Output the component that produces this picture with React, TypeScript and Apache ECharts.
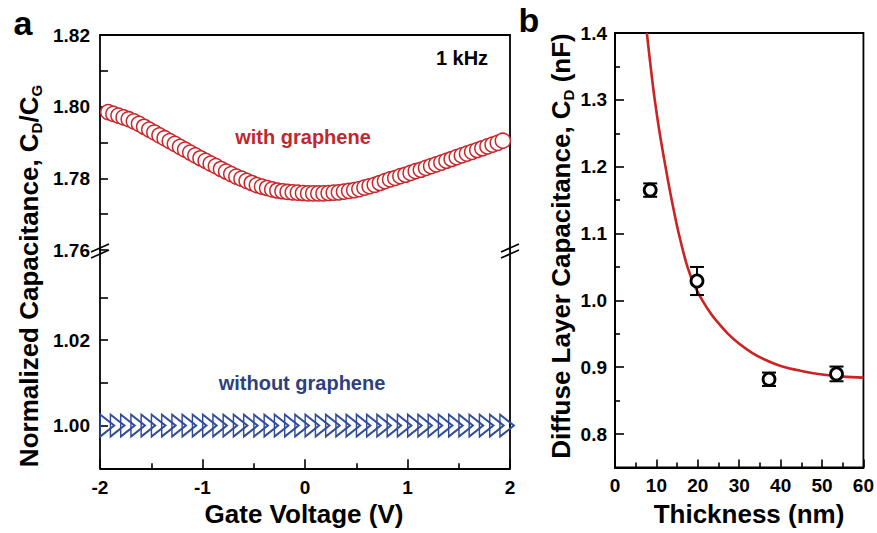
import React, { useEffect, useRef } from "react";
import * as echarts from "echarts";

// ---------- Panel a: normalized capacitance vs gate voltage ----------
const voltageWith = [
  -1.92, -1.87, -1.82, -1.77, -1.72, -1.67, -1.62, -1.57, -1.52, -1.47,
  -1.42, -1.37, -1.32, -1.27, -1.22, -1.17, -1.12, -1.07, -1.02, -0.97,
  -0.92, -0.87, -0.82, -0.77, -0.72, -0.67, -0.62, -0.57, -0.52, -0.47,
  -0.42, -0.37, -0.32, -0.27, -0.22, -0.17, -0.12, -0.07, -0.02, 0.03,
  0.08, 0.13, 0.18, 0.23, 0.28, 0.33, 0.38, 0.43, 0.48, 0.53,
  0.58, 0.63, 0.68, 0.73, 0.78, 0.83, 0.88, 0.93, 0.98, 1.03,
  1.08, 1.13, 1.18, 1.23, 1.28, 1.33, 1.38, 1.43, 1.48, 1.53,
  1.58, 1.63, 1.68, 1.73, 1.78, 1.83, 1.88, 1.93,
];
const capWithGraphene = [
  1.7985, 1.798, 1.7975, 1.797, 1.7965, 1.7959, 1.7952, 1.7944, 1.7936, 1.7928,
  1.792, 1.7912, 1.7904, 1.7896, 1.7888, 1.788, 1.7872, 1.7864, 1.7856, 1.7849,
  1.7841, 1.7834, 1.7826, 1.7819, 1.7812, 1.7805, 1.7799, 1.7793, 1.7787, 1.7781,
  1.7777, 1.7773, 1.7769, 1.7766, 1.7764, 1.7762, 1.7761, 1.776, 1.7759, 1.7758,
  1.7758, 1.7758, 1.7758, 1.7759, 1.776, 1.7761, 1.7763, 1.7765, 1.7767, 1.777,
  1.7774, 1.7778, 1.7782, 1.7787, 1.7792, 1.7797, 1.7801, 1.7806, 1.781, 1.7815,
  1.782, 1.7824, 1.7829, 1.7834, 1.7839, 1.7844, 1.7849, 1.7854, 1.7859, 1.7864,
  1.7869, 1.7874, 1.7879, 1.7884, 1.7889, 1.7894, 1.7899, 1.7905,
];
const voltageWithout = [
  -1.93, -1.83, -1.73, -1.63, -1.53, -1.43, -1.33, -1.23, -1.13, -1.03,
  -0.93, -0.83, -0.73, -0.63, -0.53, -0.43, -0.33, -0.23, -0.13, -0.03,
  0.07, 0.17, 0.27, 0.37, 0.47, 0.57, 0.67, 0.77, 0.87, 0.97,
  1.07, 1.17, 1.27, 1.37, 1.47, 1.57, 1.67, 1.77, 1.87, 1.97,
];
const capWithoutGraphene = [
  1.0, 1.0, 1.0, 1.0, 1.0, 1.0, 1.0, 1.0, 1.0, 1.0,
  1.0, 1.0, 1.0, 1.0, 1.0, 1.0, 1.0, 1.0, 1.0, 1.0,
  1.0, 1.0, 1.0, 1.0, 1.0, 1.0, 1.0, 1.0, 1.0, 1.0,
  1.0, 1.0, 1.0, 1.0, 1.0, 1.0, 1.0, 1.0, 1.0, 1.0,
];
const lowerTickValues = [1.0, 1.01, 1.02, 1.03];
const lowerLabelValues = [1.0, 1.02];

// ---------- Panel b: diffuse layer capacitance vs thickness ----------
const thickness = [8.5, 19.8, 37.2, 53.5];
const cdValues = [1.165, 1.029, 0.882, 0.89];
const cdErrors = [0.01, 0.021, 0.01, 0.011];
const fitThickness = [7.7, 8.6, 9.6, 10.8, 12.2, 13.7, 15.4, 17.5, 19.3, 21.2, 23.3, 25.4, 27.3, 30, 33, 36, 40, 45, 50, 55, 60];
const fitCd = [1.4, 1.35, 1.3, 1.25, 1.2, 1.15, 1.1, 1.05, 1.021, 0.999, 0.979, 0.963, 0.95, 0.935, 0.922, 0.912, 0.902, 0.8945, 0.889, 0.886, 0.8845];
const bMajorTicks = [0.8, 0.9, 1.0, 1.1, 1.2, 1.3, 1.4];
const bMinorTicks = [0.85, 0.95, 1.05, 1.15, 1.25, 1.35];

const FONT = "'Liberation Sans', Arial, Helvetica, sans-serif";
const RED = "#C8282C";
const BLUE = "#2F4C9C";
const AXIS = { lineStyle: { color: "#000", width: 1.8 } };
const TICK_STYLE = { color: "#000", width: 1.6 };
const LABEL = { color: "#000", fontSize: 19, fontWeight: "bold" as const, fontFamily: FONT };

function frameAxis(extra: any) {
  return {
    type: "value",
    axisLine: { show: true, onZero: false, ...AXIS },
    axisTick: { show: false },
    axisLabel: { show: false },
    splitLine: { show: false },
    ...extra,
  };
}

function txt(text: string, x: number, y: number, size: number, color: string, extra: any = {}) {
  return {
    type: "text",
    x,
    y,
    silent: true,
    style: {
      text,
      fill: color,
      fontSize: size,
      fontWeight: "bold",
      fontFamily: FONT,
      align: "center",
      verticalAlign: "middle",
      textAlign: "center",
      textVerticalAlign: "middle",
    },
    ...extra,
  };
}

function breakMarks(x: number) {
  const st = { stroke: "#000", lineWidth: 1.6 };
  return [248, 254].map((y) => ({
    type: "line",
    silent: true,
    shape: { x1: x - 9, y1: y + 4, x2: x + 9, y2: y - 4 },
    style: st,
  }));
}

export default function App() {
  const ref = useRef<HTMLDivElement>(null);
  useEffect(() => {
    if (!ref.current) return;
    const chart = echarts.init(ref.current, undefined, { renderer: "svg" });

    const richTitle = (size: number) => ({
      m: { fontSize: size, fontWeight: "bold", fontFamily: FONT, fill: "#000", lineHeight: 30 },
      s: { fontSize: 15, fontWeight: "bold", fontFamily: FONT, fill: "#000", lineHeight: 20, verticalAlign: "bottom" },
    });

    const option: any = {
      animation: false,
      grid: [
        { left: 100, top: 35, width: 410, height: 215 },
        { left: 100, top: 250, width: 410, height: 218.3 },
        { left: 615, top: 33, width: 258, height: 434.5, show: true, borderColor: "#000", borderWidth: 1.8 },
      ],
      xAxis: [
        frameAxis({ gridIndex: 0, min: -2, max: 2, position: "top" }),
        {
          type: "value",
          gridIndex: 1,
          min: -2,
          max: 2,
          interval: 1,
          position: "bottom",
          axisLine: { show: true, onZero: false, ...AXIS },
          axisTick: { show: true, inside: true, length: 9, lineStyle: TICK_STYLE },
          minorTick: { show: true, splitNumber: 2, length: 5, lineStyle: TICK_STYLE },
          axisLabel: { ...LABEL, margin: 10 },
          splitLine: { show: false },
        },
        {
          type: "value",
          gridIndex: 2,
          min: 0,
          max: 60,
          interval: 10,
          position: "bottom",
          axisLine: { show: true, onZero: false, ...AXIS },
          axisTick: { show: true, inside: true, length: 8, lineStyle: TICK_STYLE },
          minorTick: { show: true, splitNumber: 2, length: 5, lineStyle: TICK_STYLE },
          axisLabel: { ...LABEL, margin: 8 },
          splitLine: { show: false },
        },
      ],
      yAxis: [
        {
          type: "value",
          gridIndex: 0,
          min: 1.76,
          max: 1.82,
          interval: 0.01,
          position: "left",
          axisLine: { show: true, onZero: false, ...AXIS },
          axisTick: { show: true, inside: true, length: 8, lineStyle: TICK_STYLE },
          axisLabel: {
            ...LABEL,
            margin: 10,
            formatter: (v: number) => (Math.round(v * 100) % 2 === 0 ? v.toFixed(2) : ""),
          },
          splitLine: { show: false },
        },
        frameAxis({ gridIndex: 0, min: 1.76, max: 1.82, position: "right" }),
        {
          type: "value",
          gridIndex: 1,
          min: 0.99,
          max: 1.0411,
          position: "left",
          axisLine: { show: true, onZero: false, ...AXIS },
          axisTick: { show: true, inside: true, length: 8, lineStyle: TICK_STYLE, customValues: lowerTickValues },
          axisLabel: { ...LABEL, margin: 10, customValues: lowerLabelValues, formatter: (v: number) => v.toFixed(2) },
          splitLine: { show: false },
        },
        frameAxis({ gridIndex: 1, min: 0.99, max: 1.0411, position: "right" }),
        {
          type: "value",
          gridIndex: 2,
          min: 0.75,
          max: 1.4,
          position: "left",
          axisLine: { show: true, onZero: false, ...AXIS },
          axisTick: { show: true, inside: true, length: 9, lineStyle: TICK_STYLE, customValues: bMajorTicks },
          axisLabel: { ...LABEL, margin: 8, customValues: bMajorTicks, formatter: (v: number) => v.toFixed(1) },
          splitLine: { show: false },
        },
        {
          type: "value",
          gridIndex: 2,
          min: 0.75,
          max: 1.4,
          position: "left",
          offset: 0,
          axisLine: { show: false, onZero: false },
          axisTick: { show: true, inside: true, length: 5, lineStyle: TICK_STYLE, customValues: bMinorTicks },
          axisLabel: { show: false },
          splitLine: { show: false },
        },
      ],
      series: [
        {
          name: "with graphene",
          type: "scatter",
          xAxisIndex: 0,
          yAxisIndex: 0,
          symbol: "circle",
          symbolSize: 15,
          silent: true,
          itemStyle: { color: "#fff", borderColor: RED, borderWidth: 1.5, opacity: 1 },
          data: voltageWith.map((v, i) => [v, capWithGraphene[i]]),
        },
        {
          name: "without graphene",
          type: "scatter",
          xAxisIndex: 1,
          yAxisIndex: 2,
          symbol: "triangle",
          symbolSize: [22, 14],
          symbolRotate: -90,
          silent: true,
          itemStyle: { color: "rgba(255,255,255,0)", borderColor: BLUE, borderWidth: 1.8, opacity: 1 },
          data: voltageWithout.map((v, i) => [v, capWithoutGraphene[i]]),
        },
        {
          name: "fit",
          type: "line",
          xAxisIndex: 2,
          yAxisIndex: 4,
          smooth: 0.35,
          showSymbol: false,
          symbol: "none",
          silent: true,
          lineStyle: { color: "#CC2222", width: 2.6 },
          data: fitThickness.map((t, i) => [t, fitCd[i]]),
          z: 2,
        },
        {
          name: "error",
          type: "custom",
          xAxisIndex: 2,
          yAxisIndex: 4,
          silent: true,
          z: 3,
          data: thickness.map((t, i) => [t, cdValues[i] - cdErrors[i], cdValues[i] + cdErrors[i]]),
          renderItem: (params: any, api: any) => {
            const x = api.value(0);
            const lo = api.coord([x, api.value(1)]);
            const hi = api.coord([x, api.value(2)]);
            const w = 7;
            const st = { stroke: "#000", lineWidth: 2 };
            return {
              type: "group",
              children: [
                { type: "line", shape: { x1: hi[0], y1: hi[1], x2: lo[0], y2: lo[1] }, style: st },
                { type: "line", shape: { x1: hi[0] - w, y1: hi[1], x2: hi[0] + w, y2: hi[1] }, style: st },
                { type: "line", shape: { x1: lo[0] - w, y1: lo[1], x2: lo[0] + w, y2: lo[1] }, style: st },
              ],
            };
          },
        },
        {
          name: "CD",
          type: "scatter",
          xAxisIndex: 2,
          yAxisIndex: 4,
          symbol: "circle",
          symbolSize: 12,
          silent: true,
          z: 4,
          itemStyle: { color: "#fff", borderColor: "#000", borderWidth: 2.8, opacity: 1 },
          data: thickness.map((t, i) => [t, cdValues[i]]),
        },
      ],
      graphic: [
        txt("a", 23, 23, 34, "#000"),
        txt("b", 529, 20, 34, "#000"),
        txt("1 kHz", 462, 58, 20, "#000"),
        txt("with graphene", 303, 137, 20, "#C0282E"),
        txt("without graphene", 302, 383, 20, "#2E3F80"),
        txt("Gate Voltage (V)", 304, 514, 26, "#000"),
        txt("Thickness (nm)", 749, 514, 26, "#000"),
        {
          type: "text",
          x: 29,
          y: 276,
          rotation: Math.PI / 2,
          silent: true,
          style: {
            text: "{m|Normalized Capacitance, C}{s|D}{m|/C}{s|G}",
            rich: richTitle(26),
            fill: "#000",
            fontSize: 26,
            fontWeight: "bold",
            fontFamily: FONT,
            align: "center",
            verticalAlign: "middle",
            textAlign: "center",
            textVerticalAlign: "middle",
          },
        },
        {
          type: "text",
          x: 561,
          y: 246,
          rotation: Math.PI / 2,
          silent: true,
          style: {
            text: "{m|Diffuse Layer Capacitance, C}{s|D}{m| (nF)}",
            rich: richTitle(26),
            fill: "#000",
            fontSize: 26,
            fontWeight: "bold",
            fontFamily: FONT,
            align: "center",
            verticalAlign: "middle",
            textAlign: "center",
            textVerticalAlign: "middle",
          },
        },
        ...breakMarks(100),
        ...breakMarks(510),
      ],
    };
    chart.setOption(option);
    return () => chart.dispose();
  }, []);

  return (
    <div
      ref={ref}
      style={{ position: "fixed", left: 0, top: 0, width: 877, height: 533, background: "#fff" }}
    />
  );
}
